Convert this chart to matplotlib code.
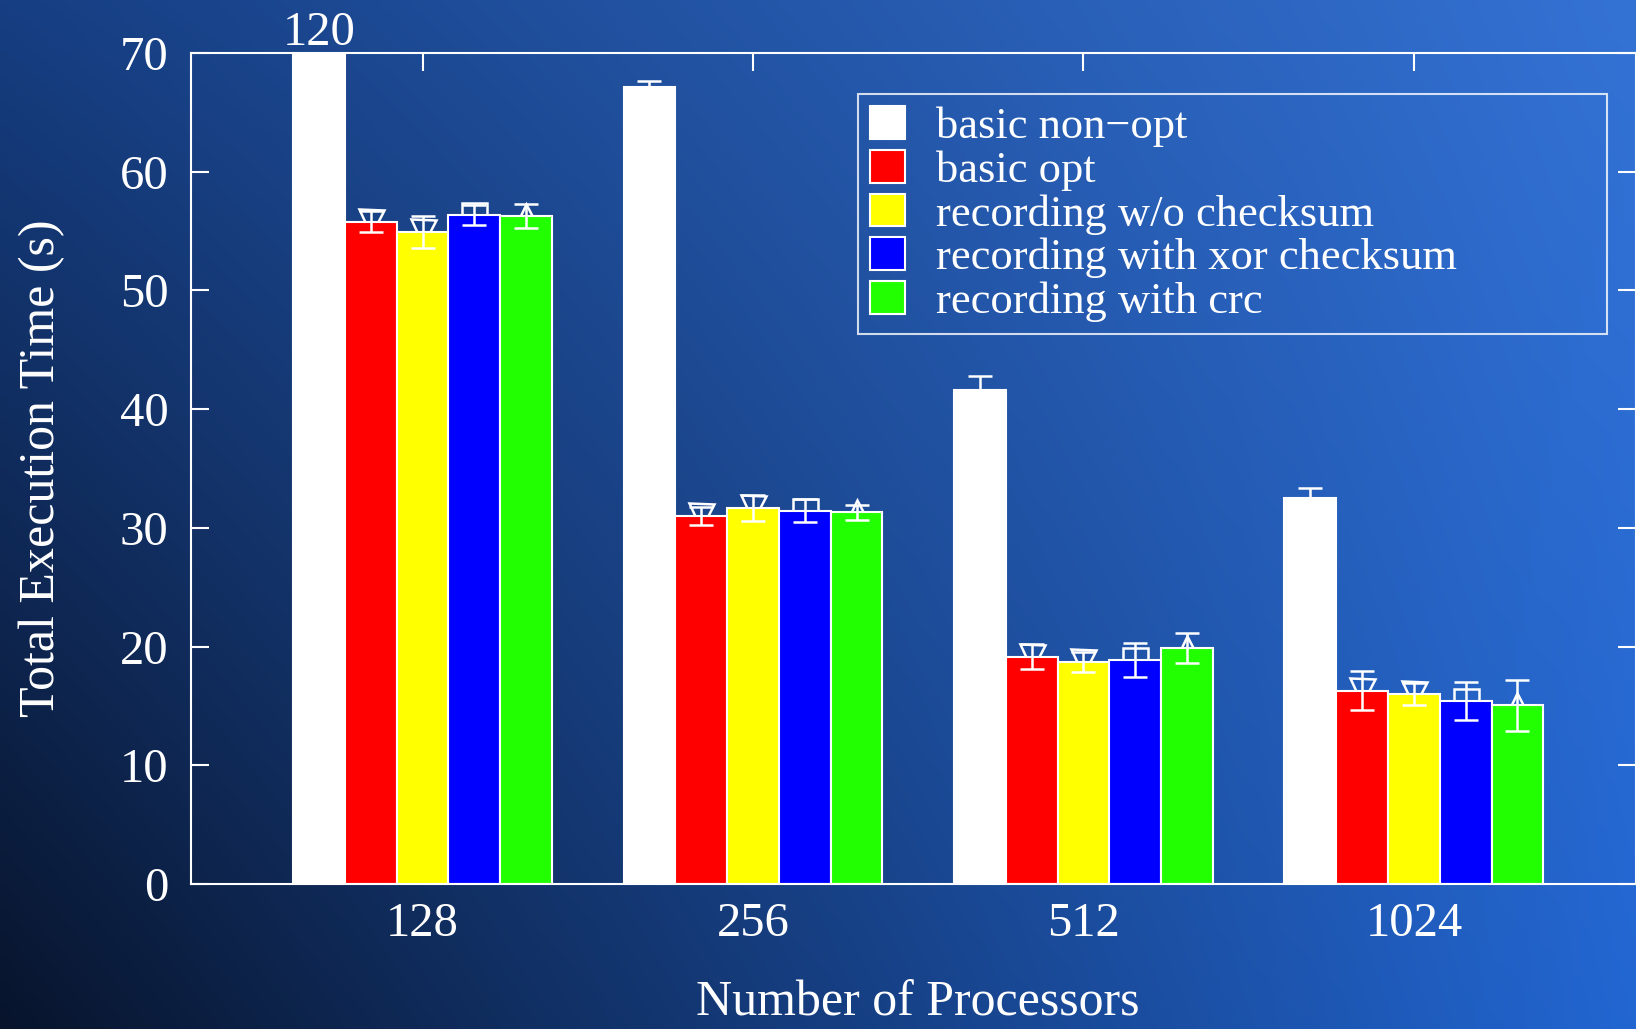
import numpy as np
import matplotlib.pyplot as plt

plt.rcParams['font.family'] = ['Liberation Serif', 'DejaVu Serif']

# processor counts on the x axis
procs = ['128', '256', '512', '1024']
series = ['basic non\u2212opt', 'basic opt', 'recording w/o checksum',
          'recording with xor checksum', 'recording with crc']
colors = ['#ffffff', '#ff0000', '#ffff00', '#0000ff', '#22ff00']
markers = [None, 'v', 'v', 's', '^']

# mean execution time (s)
basic_nonopt = [120, 67.1, 41.6, 32.5]
basic_opt = [55.8, 31.0, 19.15, 16.3]
rec_nochk = [54.95, 31.7, 18.7, 16.0]
rec_xor = [56.35, 31.45, 18.85, 15.45]
rec_crc = [56.3, 31.3, 19.9, 15.05]

# error bars (s)
err_nonopt = [0.0, 0.5, 1.2, 0.85]
err_opt = [0.85, 0.75, 1.05, 1.65]
err_nochk = [1.35, 1.1, 0.85, 0.95]
err_xor = [0.85, 0.95, 1.45, 1.6]
err_crc = [1.0, 0.65, 1.25, 2.15]

values = [basic_nonopt, basic_opt, rec_nochk, rec_xor, rec_crc]
errors = [err_nonopt, err_opt, err_nochk, err_xor, err_crc]

fig = plt.figure(figsize=(16.36, 10.29), dpi=100)

# blue gradient background
bg = fig.add_axes([0, 0, 1, 1], zorder=-1)
gx, gy = np.meshgrid(np.linspace(0, 1, 300), np.linspace(0, 1, 300))
gx = gx[..., None]
gy = gy[..., None]
tl = np.array([22, 62, 130]) / 255
tr = np.array([52, 114, 212]) / 255
bl = np.array([8, 20, 44]) / 255
br = np.array([34, 102, 210]) / 255
img = tl * (1 - gx) * (1 - gy) + tr * gx * (1 - gy) + bl * (1 - gx) * gy + br * gx * gy
bg.imshow(img, aspect='auto', extent=[0, 1, 0, 1], interpolation='bicubic')
bg.axis('off')

ax = fig.add_axes([0.1167, 0.1409, 0.8833, 0.8076])
ax.set_facecolor('none')

x = np.arange(len(procs))
w = 0.1567
for i in range(len(series)):
    off = (i - 2) * w
    ax.bar(x + off, values[i], w, color=colors[i], edgecolor='white',
           linewidth=1.5, label=series[i], zorder=2)
    if markers[i] is not None:
        ax.plot(x + off, values[i], ls='none', marker=markers[i], ms=18,
                mfc='none', mec='white', mew=1.8, zorder=1.5)
    ax.errorbar(x + off, values[i], yerr=errors[i], fmt='none', ecolor='white',
                elinewidth=1.8, capsize=8.3, capthick=1.8, zorder=3)

# first bar runs off the top, write its value above
ax.annotate(str(basic_nonopt[0]), xy=(x[0] - 2 * w, 70), xytext=(0, 6),
            textcoords='offset points', ha='center', va='baseline',
            color='white', fontsize=35, annotation_clip=False)

ax.set_xlim(-0.701, 3.672)
ax.set_ylim(0, 70)
ax.set_xticks(x)
ax.set_xticklabels(procs)
ax.set_yticks(range(0, 71, 10))

for s in ax.spines.values():
    s.set_color('white')
    s.set_linewidth(1.5)
ax.tick_params(axis='x', direction='in', top=True, bottom=False, length=13,
               width=1.5, color='white', labelcolor='white', labelsize=35, pad=13)
ax.tick_params(axis='y', direction='in', left=True, right=True, length=13,
               width=1.5, color='white', labelcolor='white', labelsize=35, pad=16)

ax.set_xlabel('Number of Processors', color='white', fontsize=36)
ax.xaxis.set_label_coords(0.503, -0.144)
ax.xaxis.label.set_va('center')
ax.set_ylabel('Total Execution Time (s)', color='white', fontsize=36)
ax.yaxis.set_label_coords(-0.103, 0.5)
ax.yaxis.label.set_va('center')

leg = ax.legend(loc='upper left', bbox_to_anchor=(0.4616, 0.664, 0.518, 0.2867),
                mode='expand', borderaxespad=0,
                fontsize=32, frameon=True, fancybox=False, handlelength=0.77,
                handleheight=0.75, handletextpad=0.7, labelspacing=0.065,
                borderpad=0.28)
leg.get_frame().set_facecolor('none')
leg.get_frame().set_edgecolor('white')
leg.get_frame().set_linewidth(1.5)
for t in leg.get_texts():
    t.set_color('white')

plt.savefig('out.png', dpi=100)
